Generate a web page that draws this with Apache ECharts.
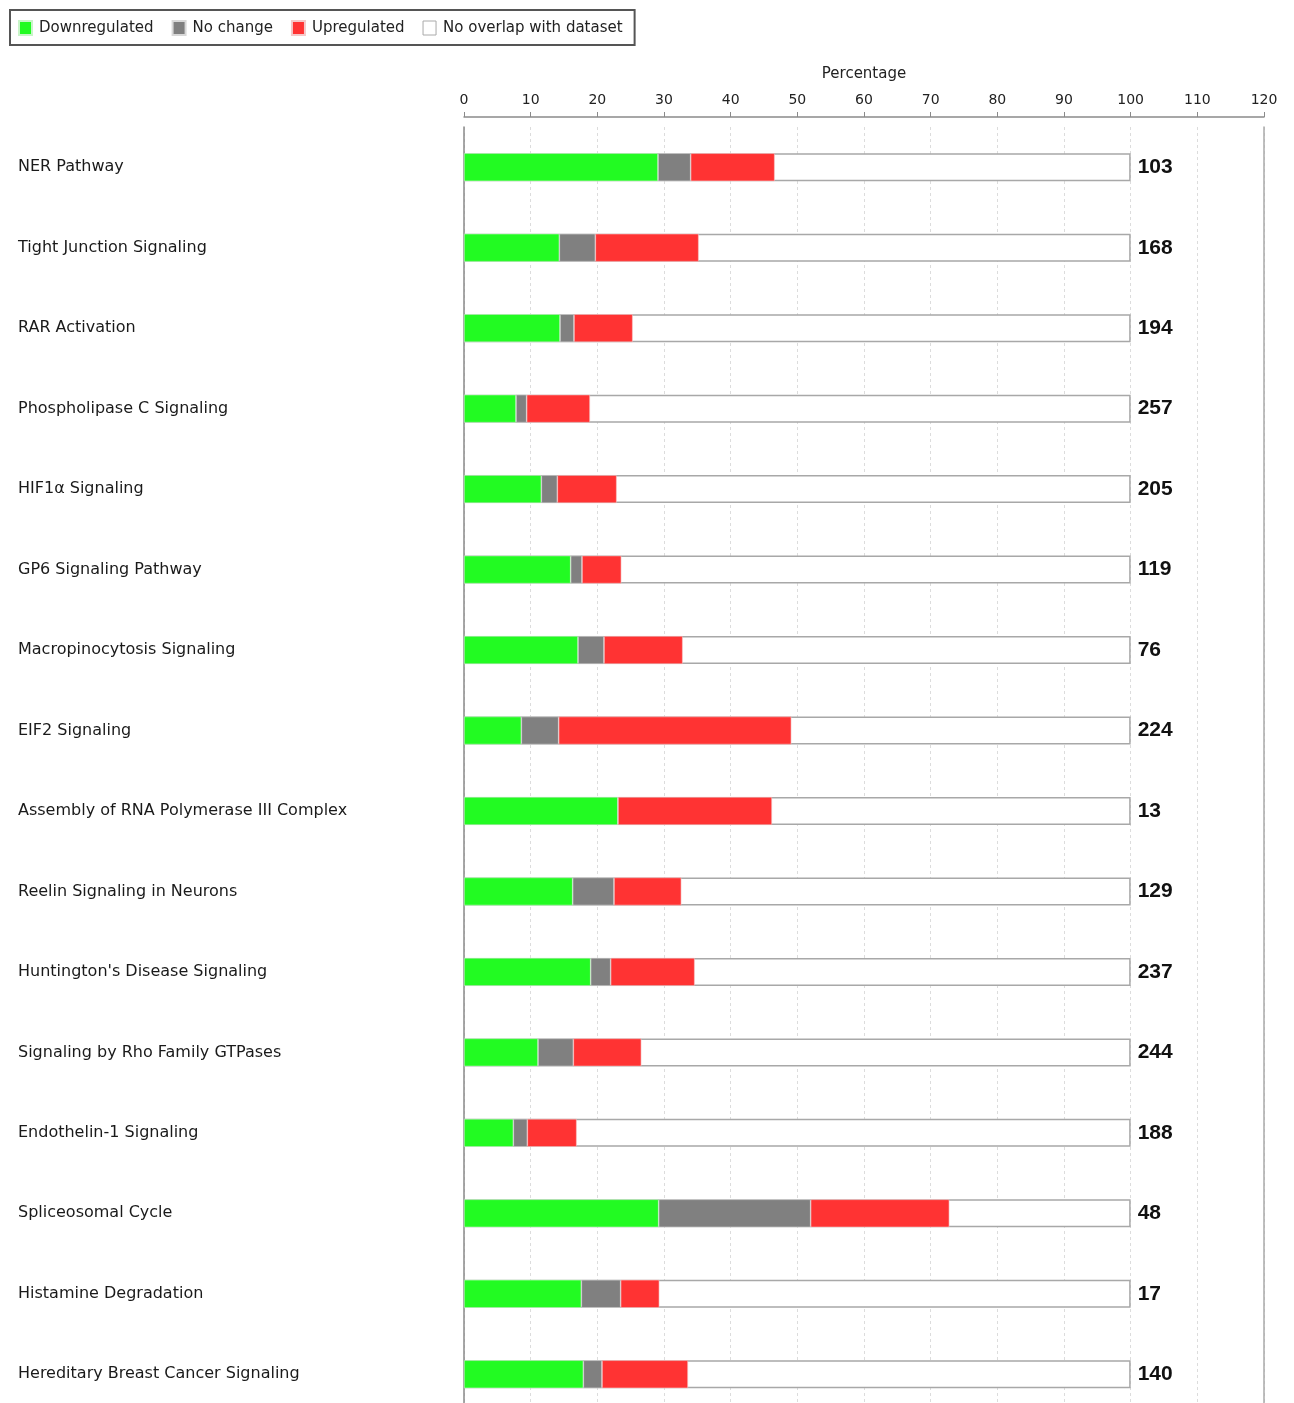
<!DOCTYPE html>
<html><head><meta charset="utf-8">
<script src="https://cdn.jsdelivr.net/npm/echarts@6/dist/echarts.min.js"></script>
<style>html,body{margin:0;padding:0;background:#fff;overflow:hidden}#c{width:1294px;height:1420px}</style>
</head><body><div id="c"></div>
<script>
const categories = [
  'NER Pathway','Tight Junction Signaling','RAR Activation','Phospholipase C Signaling',
  'HIF1α Signaling','GP6 Signaling Pathway','Macropinocytosis Signaling','EIF2 Signaling',
  'Assembly of RNA Polymerase III Complex','Reelin Signaling in Neurons',"Huntington's Disease Signaling",
  'Signaling by Rho Family GTPases','Endothelin-1 Signaling','Spliceosomal Cycle',
  'Histamine Degradation','Hereditary Breast Cancer Signaling'
];
const downregulated = [29.1,14.3,14.4,7.8,11.6,16.0,17.1,8.6,23.1,16.3,19.0,11.1,7.4,29.2,17.6,17.9];
const noChange      = [4.9,5.4,2.1,1.6,2.4,1.7,3.9,5.6,0,6.2,3.0,5.3,2.1,22.8,5.9,2.8];
const upregulated   = [12.6,15.5,8.8,9.5,8.9,5.9,11.8,34.9,23.1,10.1,12.6,10.2,7.4,20.8,5.8,12.9];
const fullScale     = [100,100,100,100,100,100,100,100,100,100,100,100,100,100,100,100];
const moleculeCounts = [103,168,194,257,205,119,76,224,13,129,237,244,188,48,17,140];

const FONT = 'DejaVu Sans';
const chart = echarts.init(document.getElementById('c'), null, {renderer:'canvas'});
const barW = 28;
chart.setOption({
  animation:false,
  backgroundColor:'#fff',
  textStyle:{fontFamily:FONT},
  legend:{
    left:10, top:10,
    padding:[10,12,9,8],
    borderColor:'#555', borderWidth:2,
    itemWidth:13, itemHeight:14, itemGap:18,
    textStyle:{fontFamily:FONT, fontSize:15, color:'#222', padding:[0,0,0,2]},
    icon:'rect',
    data:[
      {name:'Downregulated'},
      {name:'No change'},
      {name:'Upregulated'},
      {name:'No overlap with dataset', itemStyle:{color:'#fff', borderColor:'#aaa', borderWidth:1}}
    ]
  },
  grid:{left:464, right:30, top:127, height:1287.5},
  xAxis:{
    type:'value', position:'top', min:0, max:120, interval:10, offset:10,
    name:'Percentage', nameLocation:'middle', nameGap:35,
    nameTextStyle:{fontFamily:FONT, fontSize:15, color:'#222'},
    axisLine:{show:true, lineStyle:{color:'#8a8a8a', width:1.5}},
    axisTick:{show:true, length:5, lineStyle:{color:'#8a8a8a'}},
    axisLabel:{fontFamily:FONT, fontSize:14, color:'#222', margin:10},
    splitLine:{show:true, lineStyle:{color:'#dcdcdc', type:[3,3], width:1}}
  },
  yAxis:[{
    type:'category', data:categories, inverse:true,
    axisLine:{show:true, lineStyle:{color:'#8a8a8a', width:1.5}},
    axisTick:{show:false},
    axisLabel:{align:'left', margin:446, fontFamily:FONT, fontSize:16, color:'#1a1a1a'}
  },{
    type:'category', data:categories, inverse:true, position:'right',
    axisLine:{show:true, lineStyle:{color:'#aaa', width:1.5}},
    axisTick:{show:false}, axisLabel:{show:false}
  }],
  series:[
    {name:'No overlap with dataset', type:'bar', data:fullScale, barWidth:barW, barGap:'-100%', z:1,
      itemStyle:{color:'#fff', borderColor:'#a8a8a8', borderWidth:1.5},
      label:{show:true, position:'right', distance:7, formatter:(p)=>String(moleculeCounts[p.dataIndex]),
        fontFamily:'Liberation Sans', fontWeight:'bold', fontSize:21, color:'#111'}},
    {name:'Downregulated', type:'bar', stack:'s', data:downregulated, barWidth:barW, barGap:'-100%', z:2,
      itemStyle:{color:'#22fb22', borderColor:'#c8f5c8', borderWidth:0.6}},
    {name:'No change', type:'bar', stack:'s', data:noChange, barWidth:barW, barGap:'-100%', z:2,
      itemStyle:{color:'#808080', borderColor:'#d8d8d8', borderWidth:0.6}},
    {name:'Upregulated', type:'bar', stack:'s', data:upregulated, barWidth:barW, barGap:'-100%', z:2,
      itemStyle:{color:'#ff3333', borderColor:'#f5c8c8', borderWidth:0.6}}
  ]
});
</script>
</body></html>
